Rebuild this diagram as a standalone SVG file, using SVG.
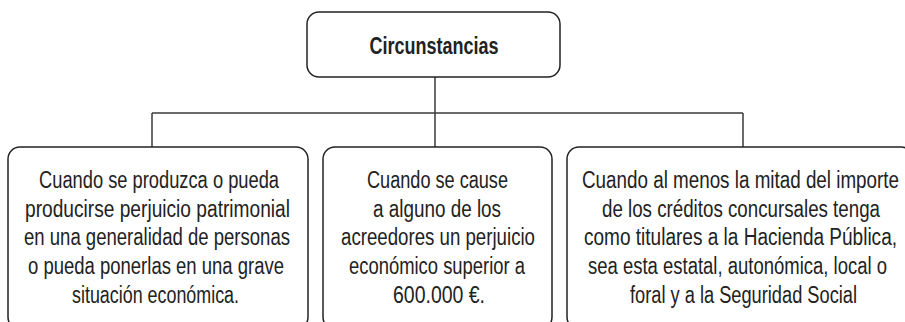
<svg xmlns="http://www.w3.org/2000/svg" width="905" height="322" viewBox="0 0 905 322">
<style>
.box{fill:#fff;stroke:#222;stroke-width:1.5}
.conn{fill:none;stroke:#3a3a3a;stroke-width:1.5}
.t{font-family:"Liberation Sans",Arial,sans-serif;font-size:23px;fill:#222;text-anchor:middle}
.h{font-family:"Liberation Sans",Arial,sans-serif;font-size:23px;font-weight:bold;fill:#222;text-anchor:middle}
</style>
<rect width="905" height="322" fill="#fff"/>
<g id="connectors">
<line class="conn" x1="435" y1="77" x2="435" y2="147"/>
<line class="conn" x1="152" y1="113" x2="743" y2="113"/>
<line class="conn" x1="152" y1="113" x2="152" y2="147"/>
<line class="conn" x1="743" y1="113" x2="743" y2="147"/>
</g>
<g id="circunstancias">
<rect class="box" x="307" y="12" width="253" height="65" rx="12"/>
<text class="h" x="434" y="54" textLength="129" lengthAdjust="spacingAndGlyphs">Circunstancias</text>
</g>
<g id="node-perjuicio-patrimonial">
<rect class="box" x="8" y="147" width="300" height="182" rx="12"/>
<text class="t" x="159" y="188" textLength="240" lengthAdjust="spacingAndGlyphs">Cuando se produzca o pueda</text>
<text class="t" x="157.5" y="216.7" textLength="265" lengthAdjust="spacingAndGlyphs">producirse perjuicio patrimonial</text>
<text class="t" x="157" y="245.4" textLength="266" lengthAdjust="spacingAndGlyphs">en una generalidad de personas</text>
<text class="t" x="156" y="274.1" textLength="256" lengthAdjust="spacingAndGlyphs">o pueda ponerlas en una grave</text>
<text class="t" x="155.5" y="302.8" textLength="167" lengthAdjust="spacingAndGlyphs">situación económica.</text>
</g>
<g id="node-acreedores">
<rect class="box" x="323" y="147" width="229" height="182" rx="12"/>
<text class="t" x="437.5" y="188" textLength="141" lengthAdjust="spacingAndGlyphs">Cuando se cause</text>
<text class="t" x="437" y="216.7" textLength="128" lengthAdjust="spacingAndGlyphs">a alguno de los</text>
<text class="t" x="438" y="245.4" textLength="194" lengthAdjust="spacingAndGlyphs">acreedores un perjuicio</text>
<text class="t" x="437" y="274.1" textLength="176" lengthAdjust="spacingAndGlyphs">económico superior a</text>
<text class="t" x="439" y="302.8" textLength="92" lengthAdjust="spacingAndGlyphs">600.000 €.</text>
</g>
<g id="node-hacienda">
<rect class="box" x="567" y="147" width="346" height="182" rx="12"/>
<text class="t" x="740.5" y="188" textLength="317" lengthAdjust="spacingAndGlyphs">Cuando al menos la mitad del importe</text>
<text class="t" x="741" y="216.7" textLength="278" lengthAdjust="spacingAndGlyphs">de los créditos concursales tenga</text>
<text class="t" x="740.5" y="245.4" textLength="313" lengthAdjust="spacingAndGlyphs">como titulares a la Hacienda Pública,</text>
<text class="t" x="737.5" y="274.1" textLength="299" lengthAdjust="spacingAndGlyphs">sea esta estatal, autonómica, local o</text>
<text class="t" x="743.5" y="302.8" textLength="227" lengthAdjust="spacingAndGlyphs">foral y a la Seguridad Social</text>
</g>
</svg>
